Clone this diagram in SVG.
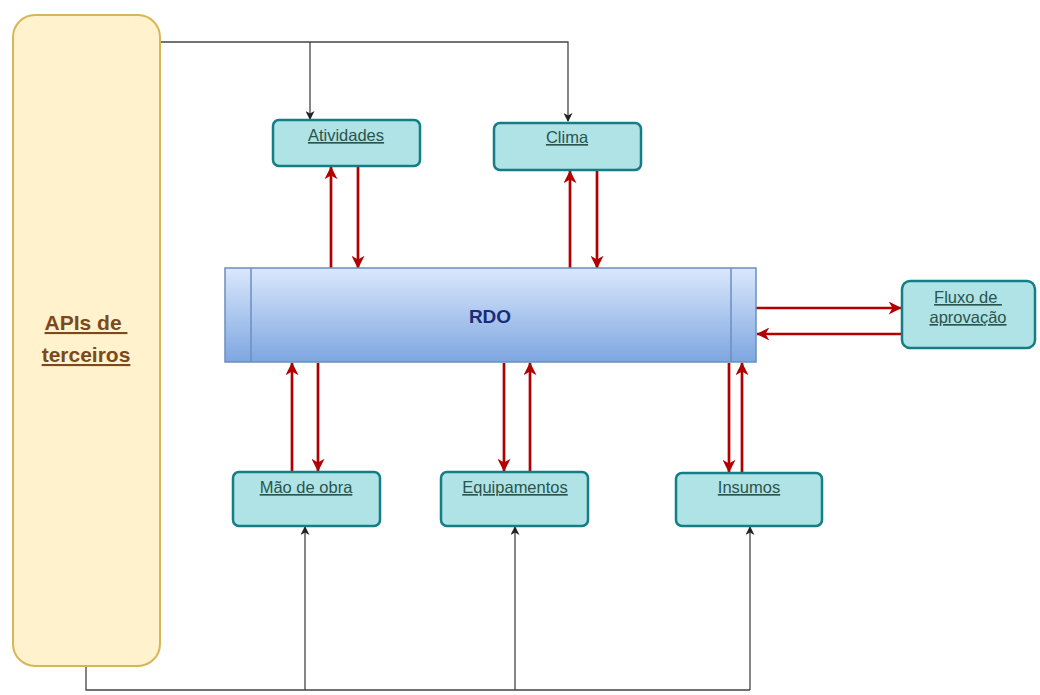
<svg xmlns="http://www.w3.org/2000/svg" width="1040" height="695" viewBox="0 0 1040 695">
<defs>
<linearGradient id="rdoGrad" x1="0" y1="0" x2="0" y2="1">
<stop offset="0" stop-color="#dae8fc"/>
<stop offset="1" stop-color="#7ea6e0"/>
</linearGradient>
<marker id="redArrow" viewBox="0 0 10 10" refX="9.5" refY="5" markerWidth="14" markerHeight="13" orient="auto" markerUnits="userSpaceOnUse">
<path d="M0,0 L10,5 L0,10 L3,5 Z" fill="#b20000"/>
</marker>
<marker id="blackArrow" viewBox="0 0 10 10" refX="9" refY="5" markerWidth="10" markerHeight="9" orient="auto" markerUnits="userSpaceOnUse">
<path d="M0,0 L10,5 L0,10 L3,5 Z" fill="#222"/>
</marker>
<style>
.teal{fill:#b0e3e6;stroke:#137e86;stroke-width:2.5}
.lbl{font-family:"Liberation Sans",Arial,sans-serif;font-size:16.5px;fill:#2a554c;text-decoration:underline;text-anchor:middle}
.red{stroke:#b20000;stroke-width:2.7;fill:none;marker-end:url(#redArrow)}
.blk{stroke:#444;stroke-width:1.3;fill:none}
.blka{stroke:#444;stroke-width:1.3;fill:none;marker-end:url(#blackArrow)}
</style>
</defs>
<rect width="1040" height="695" fill="#ffffff"/>

<g id="connectors">
<path class="blka" d="M160,42 H568 V121"/>
<path class="blka" d="M310,42 V119"/>
<path class="blk" d="M86,666 V690 H750"/>
<path class="blka" d="M305,690 V527"/>
<path class="blka" d="M515,690 V527"/>
<path class="blka" d="M750,690 V527"/>
<path class="red" d="M331,268 V167"/>
<path class="red" d="M358,167 V268"/>
<path class="red" d="M570,268 V171"/>
<path class="red" d="M597,171 V268"/>
<path class="red" d="M756,308 H901"/>
<path class="red" d="M902,334 H757"/>
<path class="red" d="M292,472 V363"/>
<path class="red" d="M318,363 V471"/>
<path class="red" d="M504,363 V471"/>
<path class="red" d="M530,472 V363"/>
<path class="red" d="M729,363 V472"/>
<path class="red" d="M742,473 V363"/>
</g>

<g id="apis">
<rect x="13" y="15" width="147" height="651" rx="22" fill="#fff2cc" stroke="#d6b656" stroke-width="2"/>
<text x="86" y="330" font-family="'Liberation Sans',Arial,sans-serif" font-size="21" font-weight="bold" fill="#7a4a1e" text-anchor="middle" text-decoration="underline" xml:space="preserve">APIs de </text>
<text x="86" y="362" font-family="'Liberation Sans',Arial,sans-serif" font-size="21" font-weight="bold" fill="#7a4a1e" text-anchor="middle" text-decoration="underline">terceiros</text>
</g>

<g id="rdo">
<rect x="225" y="268" width="531" height="94" fill="url(#rdoGrad)" stroke="#6c8ebf" stroke-width="1.5"/>
<line x1="251" y1="268" x2="251" y2="362" stroke="#6c8ebf" stroke-width="1.5"/>
<line x1="731" y1="268" x2="731" y2="362" stroke="#6c8ebf" stroke-width="1.5"/>
<text x="490" y="323" font-family="'Liberation Sans',Arial,sans-serif" font-size="19" font-weight="bold" fill="#1a2d7a" text-anchor="middle">RDO</text>
</g>

<g id="atividades">
<rect class="teal" x="273" y="120" width="147" height="46" rx="6"/>
<text class="lbl" x="346" y="141">Atividades</text>
</g>

<g id="clima">
<rect class="teal" x="494" y="123" width="147" height="47" rx="6"/>
<text class="lbl" x="567" y="143">Clima</text>
</g>

<g id="fluxo">
<rect class="teal" x="902" y="281" width="133" height="67" rx="8"/>
<text class="lbl" x="968" y="303" xml:space="preserve">Fluxo de </text>
<text class="lbl" x="968" y="323">aprovação</text>
</g>

<g id="maodeobra">
<rect class="teal" x="233" y="472" width="147" height="54" rx="6"/>
<text class="lbl" x="306" y="493">Mão de obra</text>
</g>

<g id="equipamentos">
<rect class="teal" x="441" y="472" width="147" height="54" rx="6"/>
<text class="lbl" x="515" y="493">Equipamentos</text>
</g>

<g id="insumos">
<rect class="teal" x="676" y="473" width="146" height="53" rx="6"/>
<text class="lbl" x="749" y="493">Insumos</text>
</g>
</svg>
